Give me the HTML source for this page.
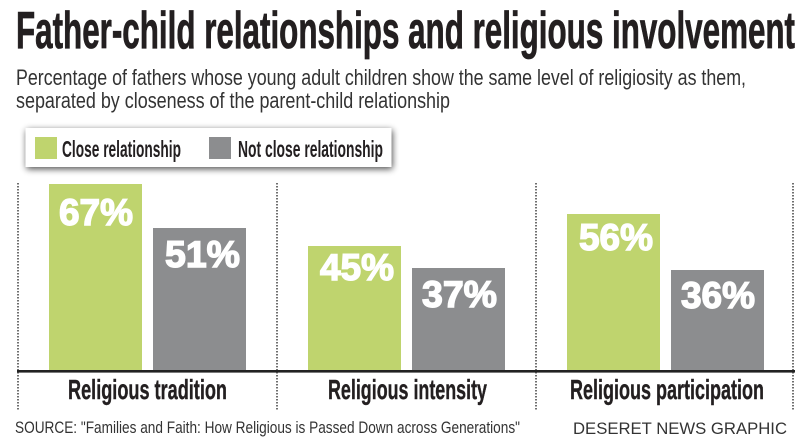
<!DOCTYPE html>
<html>
<head>
<meta charset="utf-8">
<style>
  html,body{margin:0;padding:0;background:#fff;}
  svg{display:block;}
  text{font-family:"Liberation Sans", sans-serif;}
</style>
</head>
<body>
<svg width="800" height="440" viewBox="0 0 800 440" xmlns="http://www.w3.org/2000/svg">
  <defs>
    <filter id="sh" x="-10%" y="-50%" width="120%" height="220%">
      <feGaussianBlur in="SourceAlpha" stdDeviation="3.5"/>
      <feOffset dx="1" dy="2" result="b"/>
      <feComponentTransfer><feFuncA type="linear" slope="0.7"/></feComponentTransfer>
      <feMerge><feMergeNode/><feMergeNode in="SourceGraphic"/></feMerge>
    </filter>
  </defs>
  <rect width="800" height="440" fill="#fff"/>

  <!-- Title -->
  <text x="16" y="48" font-size="52" font-weight="bold" fill="#231f20" stroke="#231f20" stroke-width="0.8" textLength="779" lengthAdjust="spacingAndGlyphs">Father-child relationships and religious involvement</text>

  <!-- Subtitle -->
  <text x="16" y="85" font-size="22.5" fill="#333" textLength="730" lengthAdjust="spacingAndGlyphs">Percentage of fathers whose young adult children show the same level of religiosity as them,</text>
  <text x="16" y="108" font-size="22.5" fill="#333" textLength="434" lengthAdjust="spacingAndGlyphs">separated by closeness of the parent-child relationship</text>

  <!-- Legend -->
  <rect x="25.5" y="128" width="366" height="39" fill="#fff" filter="url(#sh)"/>
  <rect x="35" y="137" width="22" height="22" fill="#bfd46e"/>
  <text x="62" y="157" font-size="23" font-weight="bold" fill="#231f20" textLength="119" lengthAdjust="spacingAndGlyphs">Close relationship</text>
  <rect x="209" y="137" width="22" height="22" fill="#8c8d8f"/>
  <text x="238" y="157" font-size="23" font-weight="bold" fill="#231f20" textLength="145" lengthAdjust="spacingAndGlyphs">Not close relationship</text>

  <!-- Dotted separators -->
  <g stroke="#6f6f6f" stroke-width="2" stroke-dasharray="1.5 1.5">
    <line x1="18" y1="183" x2="18" y2="411"/>
    <line x1="277" y1="183" x2="277" y2="411"/>
    <line x1="536" y1="183" x2="536" y2="411"/>
    <line x1="793" y1="183" x2="793" y2="411"/>
  </g>

  <!-- Bars -->
  <rect x="49" y="184" width="93" height="186" fill="#bfd46e"/>
  <rect x="153" y="228" width="93" height="142" fill="#8c8d8f"/>
  <rect x="308" y="246" width="93" height="124" fill="#bfd46e"/>
  <rect x="412" y="268" width="93" height="102" fill="#8c8d8f"/>
  <rect x="567" y="214" width="93" height="156" fill="#bfd46e"/>
  <rect x="671" y="270" width="93" height="100" fill="#8c8d8f"/>

  <!-- Baseline -->
  <rect x="17" y="370" width="778" height="2.6" fill="#222"/>

  <!-- Value labels -->
  <g font-size="37" font-weight="bold" fill="#fff" stroke="#fff" stroke-width="1.4">
    <text x="59" y="225" textLength="74" lengthAdjust="spacingAndGlyphs">67%</text>
    <text x="165" y="267" textLength="75" lengthAdjust="spacingAndGlyphs">51%</text>
    <text x="320" y="280" textLength="74" lengthAdjust="spacingAndGlyphs">45%</text>
    <text x="422" y="307" textLength="75" lengthAdjust="spacingAndGlyphs">37%</text>
    <text x="579" y="250" textLength="74" lengthAdjust="spacingAndGlyphs">56%</text>
    <text x="681" y="308" textLength="74" lengthAdjust="spacingAndGlyphs">36%</text>
  </g>

  <!-- Category labels -->
  <g font-size="28" font-weight="bold" fill="#231f20" stroke="#231f20" stroke-width="0.4">
    <text x="68" y="399" textLength="159" lengthAdjust="spacingAndGlyphs">Religious tradition</text>
    <text x="328" y="399" textLength="159" lengthAdjust="spacingAndGlyphs">Religious intensity</text>
    <text x="570" y="399" textLength="194" lengthAdjust="spacingAndGlyphs">Religious participation</text>
  </g>

  <!-- Footer -->
  <text x="15" y="433" font-size="17" fill="#333" textLength="505" lengthAdjust="spacingAndGlyphs">SOURCE: "Families and Faith: How Religious is Passed Down across Generations"</text>
  <text x="573" y="434" font-size="17" fill="#333" textLength="214" lengthAdjust="spacingAndGlyphs">DESERET NEWS GRAPHIC</text>
</svg>
</body>
</html>
